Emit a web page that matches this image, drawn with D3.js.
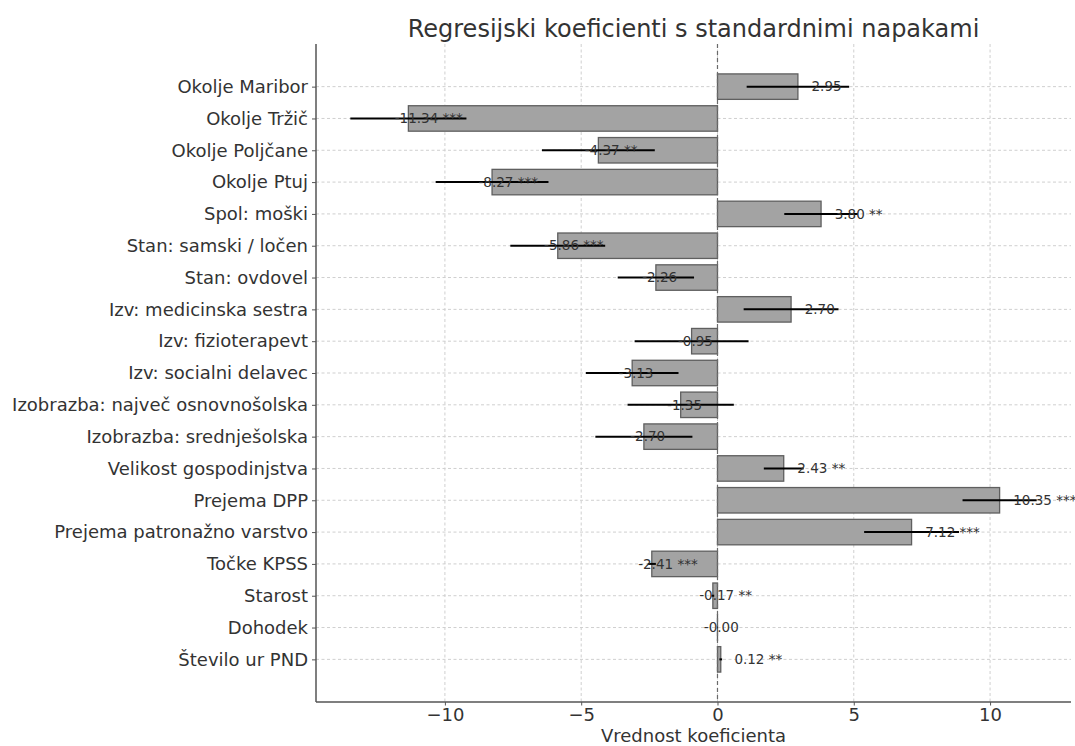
<!DOCTYPE html>
<html>
<head>
<meta charset="utf-8">
<script src="https://cdn.jsdelivr.net/npm/d3@7"></script>
<style>
  body { margin: 0; background: #fff; }
  svg { font-family: "DejaVu Sans", sans-serif; }
</style>
</head>
<body>
<svg id="chart" width="1075" height="746"></svg>
<script>
// data
const labels = [
  "Okolje Maribor", "Okolje Tržič", "Okolje Poljčane", "Okolje Ptuj",
  "Spol: moški", "Stan: samski / ločen", "Stan: ovdovel",
  "Izv: medicinska sestra", "Izv: fizioterapevt", "Izv: socialni delavec",
  "Izobrazba: največ osnovnošolska", "Izobrazba: srednješolska",
  "Velikost gospodinjstva", "Prejema DPP", "Prejema patronažno varstvo",
  "Točke KPSS", "Starost", "Dohodek", "Število ur PND"
];
const coefs = [2.95, -11.34, -4.37, -8.27, 3.80, -5.86, -2.26, 2.70, -0.95, -3.13,
  -1.35, -2.70, 2.43, 10.35, 7.12, -2.41, -0.17, -0.001, 0.12];
const stdErrs = [1.88, 2.13, 2.07, 2.07, 1.35, 1.74, 1.40, 1.74, 2.09, 1.70,
  1.95, 1.78, 0.73, 1.36, 1.74, 0.15, 0.05, 0.01, 0.05];
const stars = ["", "***", "**", "***", "**", "***", "", "", "", "",
  "", "", "**", "***", "***", "***", "**", "", "**"];
const xTicks = [-10, -5, 0, 5, 10];

const svg = d3.select("#chart");
const plotL = 316, plotR = 1071, plotT = 44, plotB = 702;

// x limits like matplotlib: data range incl. error bars + 5% margin
const lo = d3.min(coefs, (d, i) => d - stdErrs[i]);
const hi = d3.max(coefs, (d, i) => d + stdErrs[i]);
const pad = (hi - lo) * 0.05;
const x = d3.scaleLinear().domain([lo - pad, hi + pad]).range([plotL, plotR]);

const n = labels.length;
const barH = 0.8;
const yPad = (n - 1 + barH) * 0.05;
const y = d3.scaleLinear().domain([-barH / 2 - yPad, n - 1 + barH / 2 + yPad]).range([plotT, plotB]);

// grid
const grid = svg.append("g");
grid.selectAll(".gx").data(xTicks).join("line")
  .attr("x1", d => x(d)).attr("x2", d => x(d))
  .attr("y1", plotT).attr("y2", plotB)
  .attr("stroke", "#cfcfcf").attr("stroke-width", 1).attr("stroke-dasharray", "3,2.5");
grid.selectAll(".gy").data(d3.range(n)).join("line")
  .attr("x1", plotL).attr("x2", plotR)
  .attr("y1", d => y(d)).attr("y2", d => y(d))
  .attr("stroke", "#cfcfcf").attr("stroke-width", 1).attr("stroke-dasharray", "3,2.5");

// bars
svg.append("g").selectAll("rect").data(coefs).join("rect")
  .attr("x", d => x(Math.min(0, d)))
  .attr("width", d => Math.abs(x(d) - x(0)))
  .attr("y", (d, i) => y(i - barH / 2))
  .attr("height", y(barH) - y(0))
  .attr("fill", "#a3a3a3")
  .attr("stroke", "#5f5f5f")
  .attr("stroke-width", 1.3);

// zero line
svg.append("line")
  .attr("x1", x(0)).attr("x2", x(0)).attr("y1", plotT).attr("y2", plotB)
  .attr("stroke", "#6a6a6a").attr("stroke-width", 1.2).attr("stroke-dasharray", "4,3");

// error bars
svg.append("g").selectAll("line").data(coefs).join("line")
  .attr("x1", (d, i) => x(d - stdErrs[i]))
  .attr("x2", (d, i) => x(d + stdErrs[i]))
  .attr("y1", (d, i) => y(i)).attr("y2", (d, i) => y(i))
  .attr("stroke", "#000").attr("stroke-width", 2);

// value labels
svg.append("g").selectAll("text").data(coefs).join("text")
  .attr("x", d => x(d < 0 ? d - 0.5 : d + 0.5))
  .attr("y", (d, i) => y(i))
  .attr("dy", "0.35em")
  .attr("font-size", 13.5)
  .attr("fill", "#333")
  .text((d, i) => d.toFixed(2) + (stars[i] ? " " + stars[i] : ""));

// axes
const yAxis = svg.append("g").attr("transform", `translate(${plotL},0)`)
  .call(d3.axisLeft(y).tickValues(d3.range(n)).tickFormat(i => labels[i]).tickSize(4).tickPadding(4));
const xAxis = svg.append("g").attr("transform", `translate(0,${plotB})`)
  .call(d3.axisBottom(x).tickValues(xTicks).tickFormat(d3.format("d")).tickSize(3.5).tickPadding(2.5));
[yAxis, xAxis].forEach(a => {
  a.select(".domain").attr("stroke", "#555").attr("stroke-width", 1.5);
  a.selectAll(".tick line").attr("stroke", "#555");
  a.selectAll(".tick text").attr("font-size", 18).attr("fill", "#333")
    .attr("font-family", "DejaVu Sans, sans-serif");
});
yAxis.select(".domain").attr("d", `M0,${plotT}V${plotB}`);
xAxis.select(".domain").attr("d", `M${plotL},0H${plotR}`);

// titles
svg.append("text")
  .attr("x", (plotL + plotR) / 2).attr("y", 37)
  .attr("text-anchor", "middle").attr("font-size", 24).attr("fill", "#333")
  .text("Regresijski koeficienti s standardnimi napakami");
svg.append("text")
  .attr("x", (plotL + plotR) / 2).attr("y", 742)
  .attr("text-anchor", "middle").attr("font-size", 18).attr("fill", "#333")
  .text("Vrednost koeficienta");
</script>
</body>
</html>
